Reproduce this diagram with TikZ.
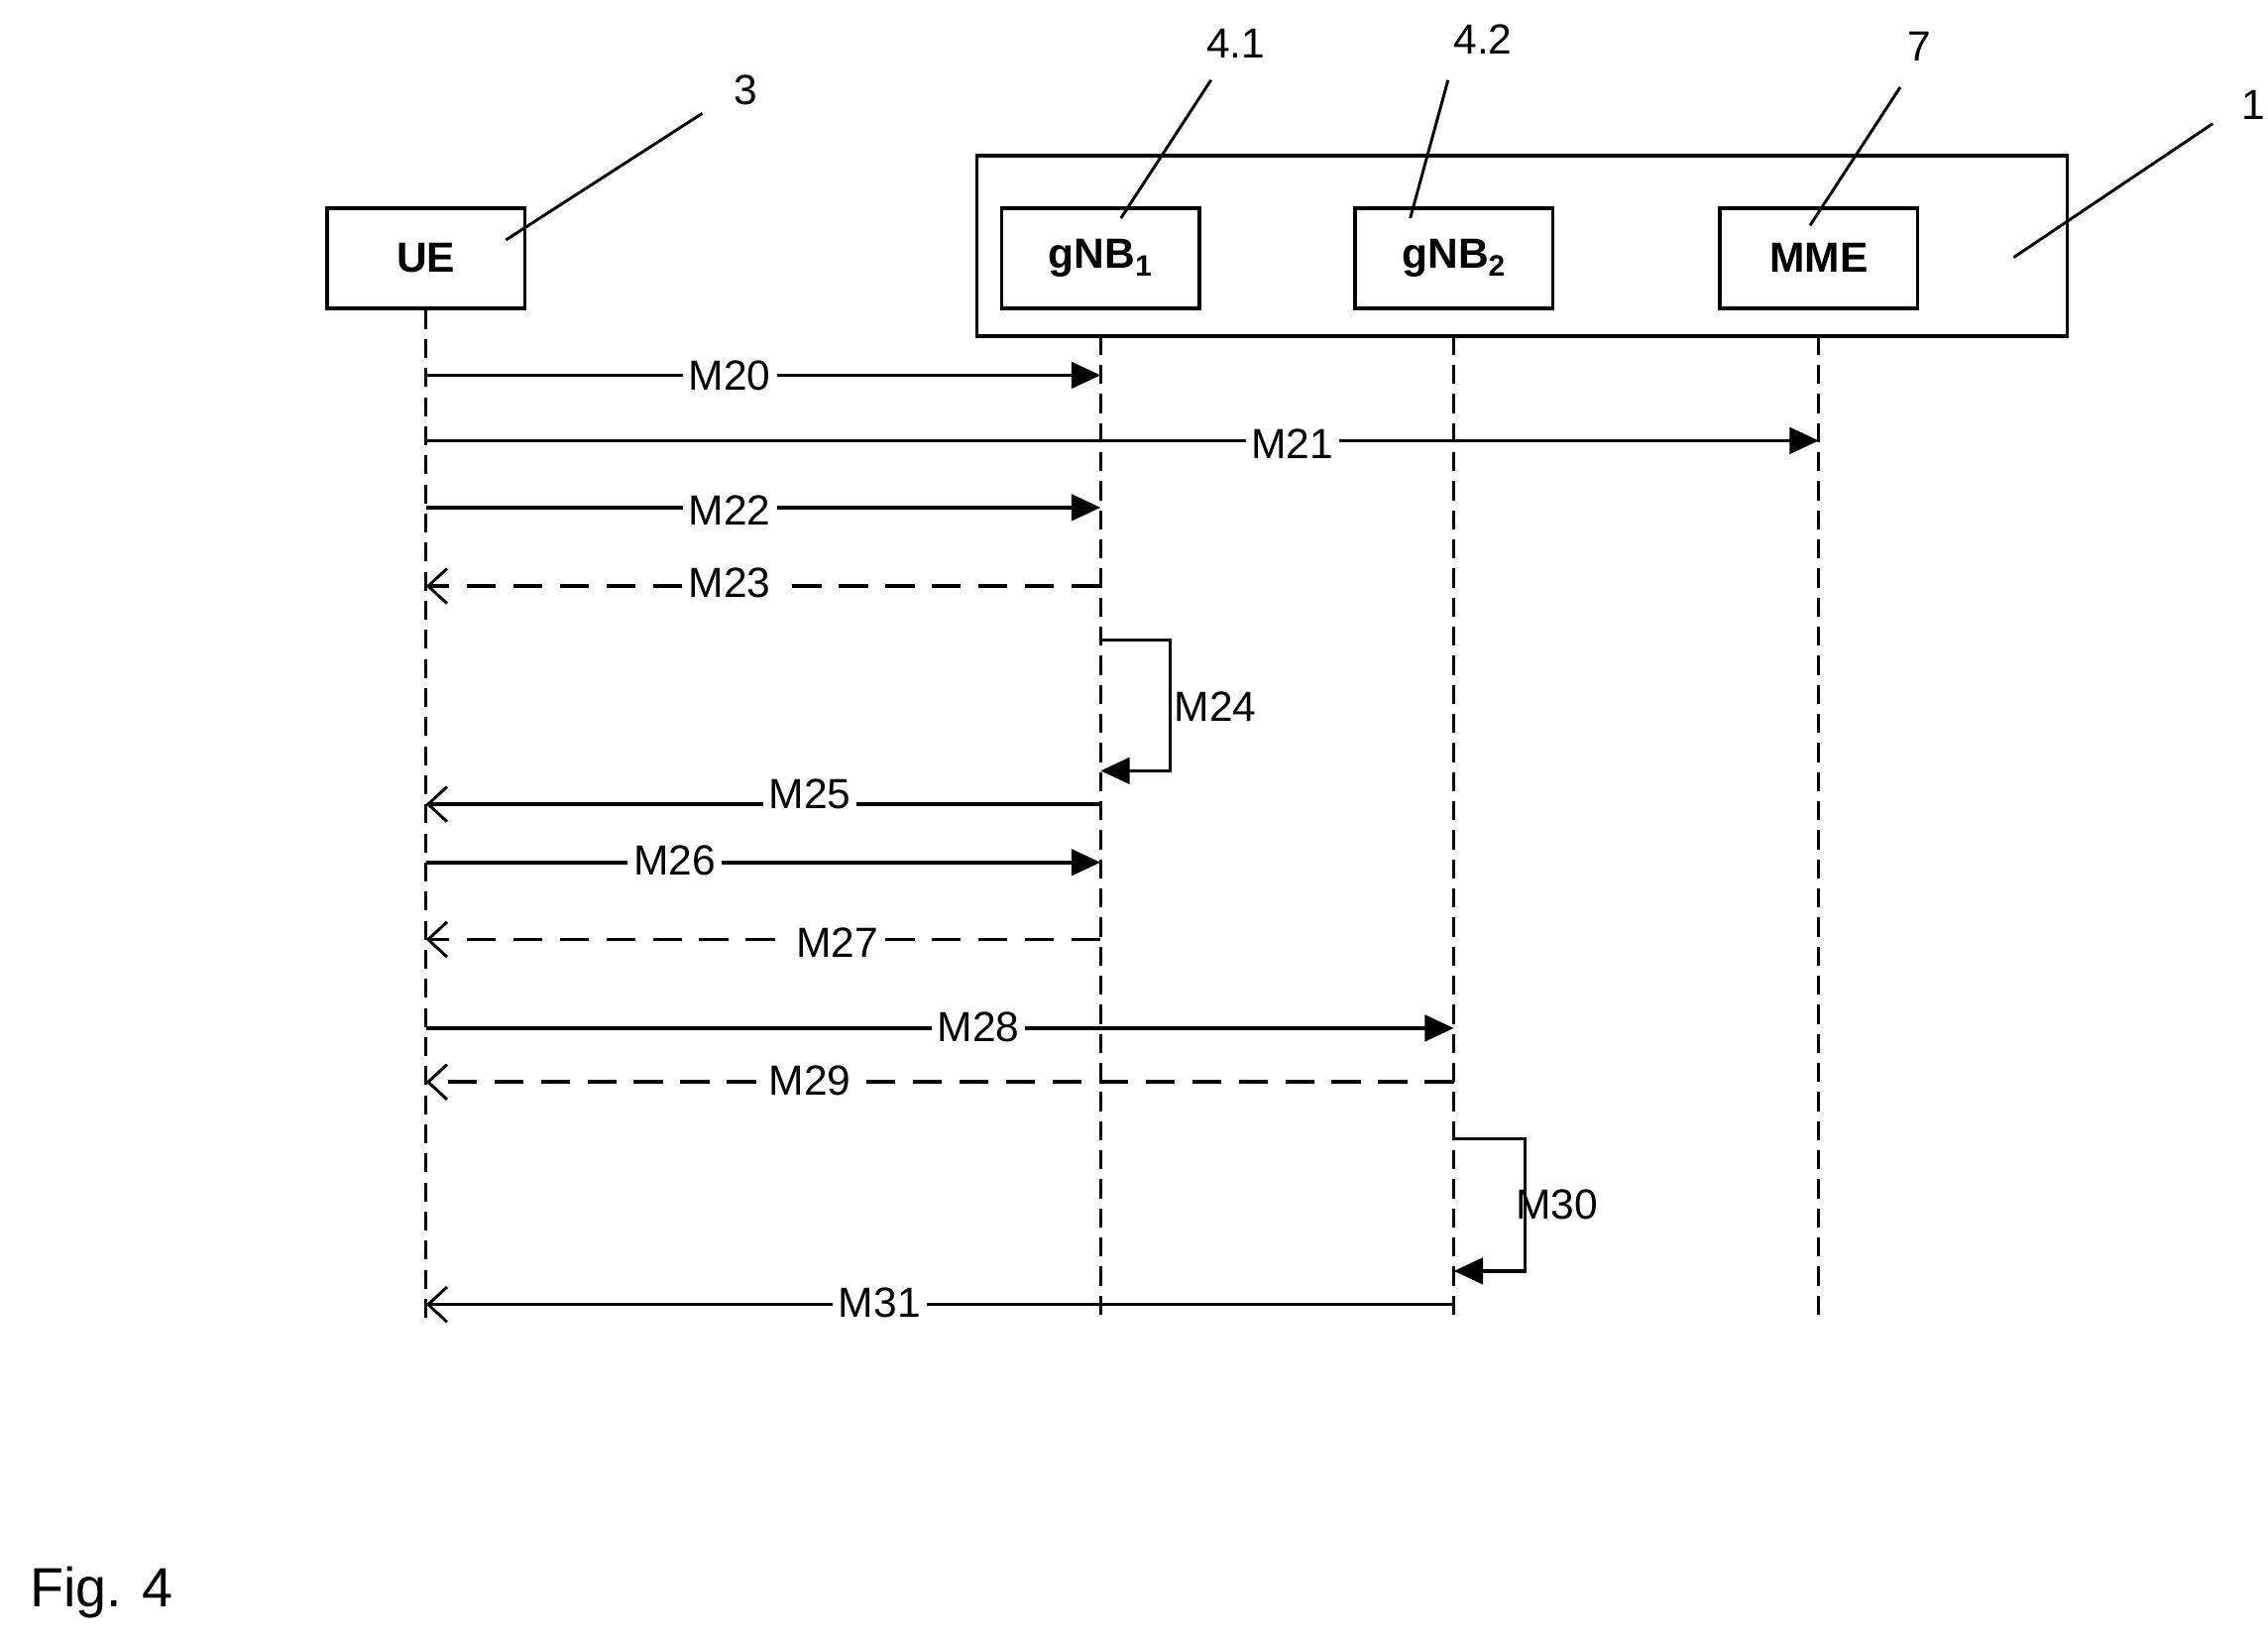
\documentclass[tikz,border=0pt]{standalone}
\usepackage{fontspec}
\setmainfont{Liberation Sans}
\usetikzlibrary{arrows.meta}
\begin{document}
\begin{tikzpicture}[x=1pt,y=-1pt,line width=2.4pt,
  box/.style={draw,minimum width=136pt,minimum height=69pt,font=\fontsize{29}{34}\selectfont\bfseries,inner sep=0pt},
  life/.style={dash pattern=on 13pt off 7pt,line width=2pt},
  lbl/.style={fill=white,inner sep=4pt,font=\fontsize{29}{34}\selectfont},
  num/.style={font=\fontsize{29}{34}\selectfont,inner sep=0pt},
  fa/.style={-{Triangle[length=20pt,width=18pt]}},
  oa/.style={-{Straight Barb[length=13pt,width=24pt,line width=2pt]}},
  dsh/.style={dash pattern=on 20pt off 12pt}]
\useasboundingbox (0,0) rectangle (1560,1128);
\draw (672,107) rectangle (1422,231);
\node[box] (ue) at (293,177.5) {UE};
\node[box] (g1) at (757,177.5) {gNB\textsubscript{1}};
\node[box] (g2) at (1000,177.5) {gNB\textsubscript{2}};
\node[box] (mme) at (1251,177.5) {MME};
\coordinate (ueE) at (293,908);
\coordinate (g1S) at (757,231); \coordinate (g1E) at (757,908);
\coordinate (g2S) at (1000,231); \coordinate (g2E) at (1000,908);
\coordinate (mS) at (1251,231); \coordinate (mE) at (1251,908);
\draw[life] (ue.south) -- (ueE);
\draw[life] (g1S) -- (g1E);
\draw[life] (g2S) -- (g2E);
\draw[life] (mS) -- (mE);
% reference numbers
\node[num] (n3) at (513,62) {3}; \draw[line width=2pt] (348,165) -- (483,78);
\node[num] (n41) at (850,30) {4.1}; \draw[line width=2pt] (771,150) -- (833,55);
\node[num] (n42) at (1020,27) {4.2}; \draw[line width=2pt] (970,150) -- (996,55);
\node[num] (n7) at (1320,32) {7}; \draw[line width=2pt] (1245,155) -- (1307,60);
\node[num] (n1) at (1550,72) {1}; \draw[line width=2pt] (1385,177) -- (1522,85);
% messages
\draw[fa] (293,258) -- (757,258); \node[lbl] (m20) at (502,258) {M20};
\draw[fa] (293,303) -- (1251,303); \node[lbl] (m21) at (889,305) {M21};
\draw[fa] (293,349) -- (757,349); \node[lbl] (m22) at (502,351) {M22};
\draw[oa,dsh] (757,403) -- (293,403); \node[lbl] (m23) at (502,401) {M23};
\draw[fa] (757,440) -- (805,440) -- (805,530) -- (757,530); \node[lbl,fill=none] (m24) at (836,486) {M24};
\draw[oa] (757,553) -- (293,553); \node[lbl] (m25) at (557,546) {M25};
\draw[fa] (293,593) -- (757,593); \node[lbl] (m26) at (464,592) {M26};
\draw[oa,dsh] (757,646) -- (293,646); \node[lbl] (m27) at (576,648) {M27};
\draw[fa] (293,707) -- (1000,707); \node[lbl] (m28) at (673,706) {M28};
\draw[oa,dsh] (1000,744) -- (293,744); \node[lbl] (m29) at (557,743) {M29};
\draw[fa] (1000,783) -- (1049,783) -- (1049,874) -- (1000,874); \node[lbl,fill=none] (m30) at (1071,828) {M30};
\draw[oa] (1000,897) -- (293,897); \node[lbl] (m31) at (605,896) {M31};
\node[num,font=\fontsize{38}{44}\selectfont] (fig) at (70,1095) {Fig. 4};
\end{tikzpicture}
\end{document}
